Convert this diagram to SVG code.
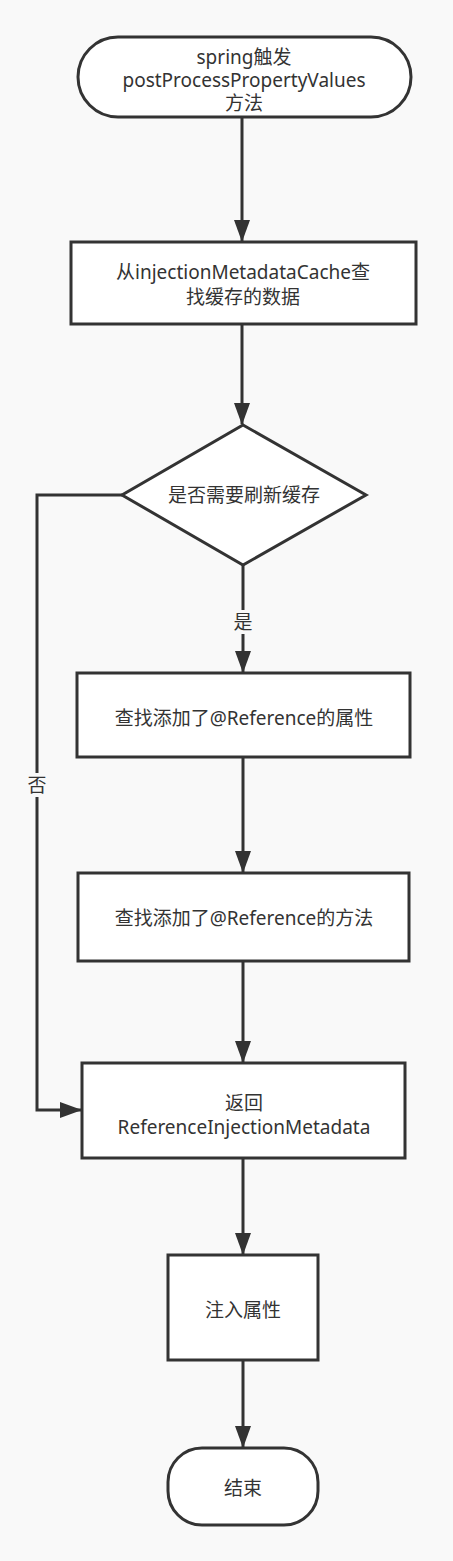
<svg xmlns="http://www.w3.org/2000/svg" width="453" height="1561" viewBox="0 0 453 1561">
<style>
.n{fill:#ffffff;stroke:#333333;stroke-width:3}
.t{font-family:"Noto Sans","Noto Sans CJK SC",sans-serif;font-size:19px;fill:#333333;text-anchor:middle;dominant-baseline:central}
.c{fill:none;stroke:#333333;stroke-width:3}
</style>
<defs>
<marker id="ah" markerUnits="userSpaceOnUse" markerWidth="22" markerHeight="16" refX="21" refY="8" orient="auto">
<path d="M0,0 L22,8 L0,16 Z" fill="#333333"/>
</marker>
</defs>
<rect x="0" y="0" width="453" height="1561" fill="#f9f9f9"/>
<g id="connectors">
<line class="c" x1="242" y1="117" x2="242" y2="241" marker-end="url(#ah)"/>
<line class="c" x1="242" y1="324" x2="242" y2="424" marker-end="url(#ah)"/>
<line class="c" x1="243" y1="565" x2="243" y2="672" marker-end="url(#ah)"/>
<rect x="232" y="610" width="22" height="24" fill="#f9f9f9"/>
<text class="t" x="243" y="622">是</text>
<line class="c" x1="243" y1="757" x2="243" y2="872" marker-end="url(#ah)"/>
<line class="c" x1="243" y1="961" x2="243" y2="1062" marker-end="url(#ah)"/>
<line class="c" x1="243" y1="1158" x2="243" y2="1254" marker-end="url(#ah)"/>
<line class="c" x1="243" y1="1360" x2="243" y2="1447" marker-end="url(#ah)"/>
<path class="c" d="M122,495 L37,495 L37,1110 L81,1110" marker-end="url(#ah)"/>
<rect x="26" y="773" width="22" height="24" fill="#f9f9f9"/>
<text class="t" x="37" y="785">否</text>
</g>
<g id="start">
<rect class="n" x="78" y="37" width="333" height="80" rx="40" ry="40"/>
<text class="t" x="244" y="57">spring触发</text>
<text class="t" x="244" y="80">postProcessPropertyValues</text>
<text class="t" x="244" y="103">方法</text>
</g>
<g id="find-cache">
<rect class="n" x="71" y="242" width="345" height="82"/>
<text class="t" x="243" y="272">从injectionMetadataCache查</text>
<text class="t" x="243" y="297">找缓存的数据</text>
</g>
<g id="decision">
<polygon class="n" points="243,425 366,495 243,565 122,495"/>
<text class="t" x="244" y="495">是否需要刷新缓存</text>
</g>
<g id="find-fields">
<rect class="n" x="77" y="673" width="333" height="84"/>
<text class="t" x="244" y="718">查找添加了@Reference的属性</text>
</g>
<g id="find-methods">
<rect class="n" x="78" y="873" width="331" height="88"/>
<text class="t" x="244" y="918">查找添加了@Reference的方法</text>
</g>
<g id="return-meta">
<rect class="n" x="82" y="1063" width="323" height="95"/>
<text class="t" x="244" y="1103">返回</text>
<text class="t" x="244" y="1127">ReferenceInjectionMetadata</text>
</g>
<g id="inject">
<rect class="n" x="168" y="1255" width="150" height="105"/>
<text class="t" x="243" y="1310">注入属性</text>
</g>
<g id="end">
<rect class="n" x="168" y="1448" width="150" height="77" rx="34" ry="34"/>
<text class="t" x="243" y="1488">结束</text>
</g>
</svg>
